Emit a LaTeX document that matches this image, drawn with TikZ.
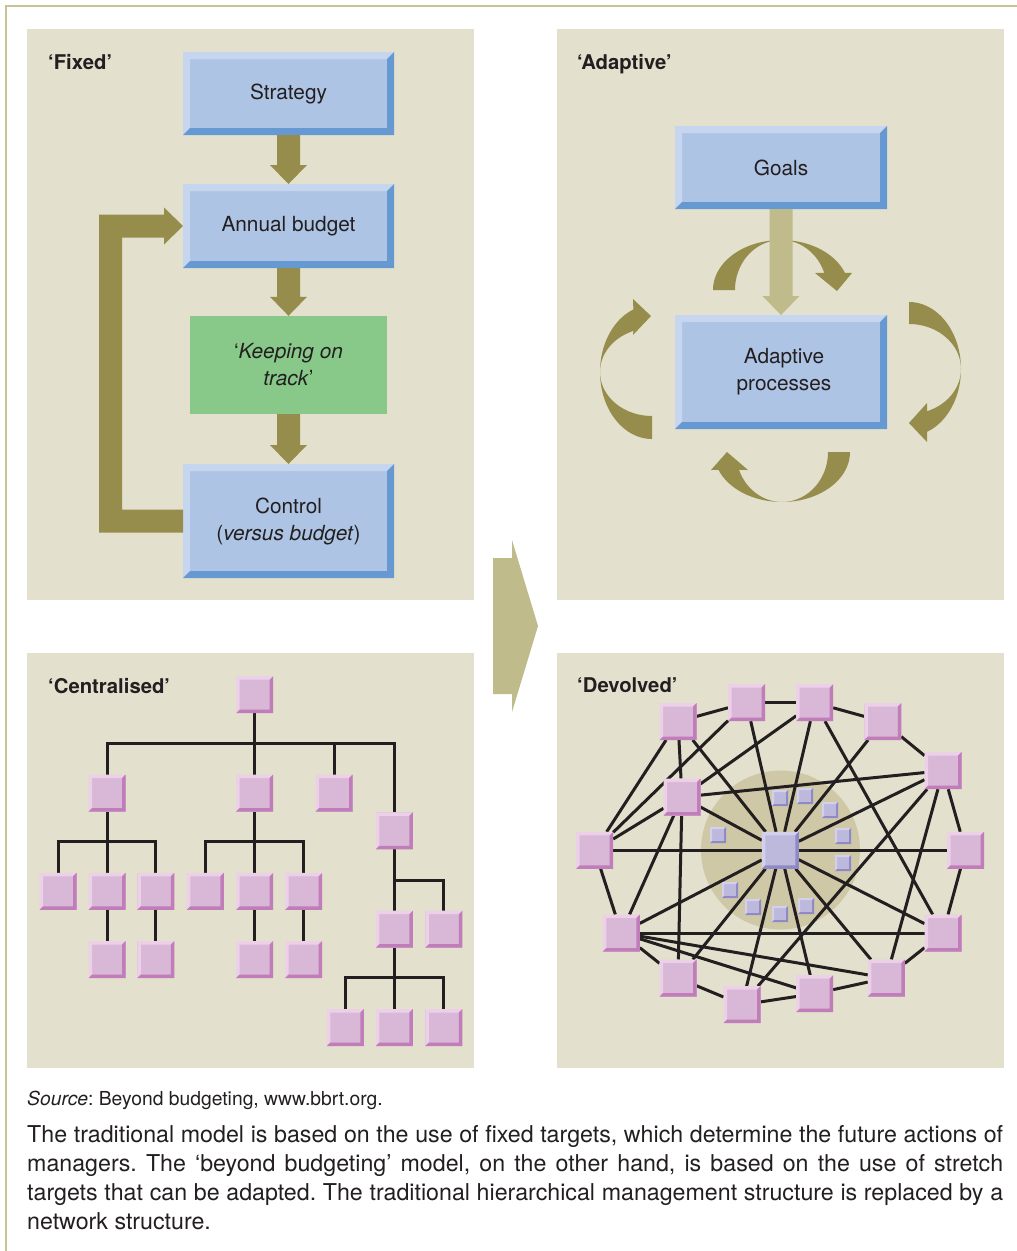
\documentclass[tikz,border=0pt]{standalone}
\usepackage{fontspec}
\setmainfont{TeX Gyre Heros}
\usetikzlibrary{calc}
\frenchspacing

\definecolor{panel}{HTML}{E3E0CD}
\definecolor{framec}{HTML}{C9C293}
\definecolor{olive}{HTML}{968D4C}
\definecolor{olivelt}{HTML}{BFBB8A}
\definecolor{bluef}{HTML}{AEC4E4}
\definecolor{bluel}{HTML}{C6D6EF}
\definecolor{blued}{HTML}{6699D1}
\definecolor{greenf}{HTML}{88C98A}
\definecolor{pinkf}{HTML}{D9B7D6}
\definecolor{pinkl}{HTML}{EBD0E8}
\definecolor{pinkd}{HTML}{C07DB9}
\definecolor{lavf}{HTML}{BDB9DD}
\definecolor{lavl}{HTML}{D3D0EC}
\definecolor{lavd}{HTML}{8F89C6}
\definecolor{hubc}{HTML}{CFC8A6}
\definecolor{ink}{HTML}{231F20}

\newcommand{\lblfont}{\fontsize{20.8}{27}\selectfont}
\newcommand{\ttlfont}{\fontsize{20.3}{24}\selectfont\bfseries}

% thick block arrow pointing down from one node to the next
\newcommand{\fatdown}[3]{%
  \fill[#3] ($(#1.south)+(-11.5,0)$) -- ($(#2.north)+(-11.5,-19)$)
    -- ($(#2.north)+(-18.5,-19)$) -- (#2.north) -- ($(#2.north)+(18.5,-19)$)
    -- ($(#2.north)+(11.5,-19)$) -- ($(#1.south)+(11.5,0)$) -- cycle;}

\pgfdeclarelayer{back}
\pgfdeclarelayer{links}
\pgfsetlayers{back,links,main}

\tikzset{
  bevel/.style n args={4}{rectangle, inner sep=0pt, outer sep=0pt, fill=#1,
    path picture={
      \fill[#2] (path picture bounding box.north west) -- (path picture bounding box.north east)
        -- ([shift={(-#4,-#4)}]path picture bounding box.north east)
        -- ([shift={(#4,-#4)}]path picture bounding box.north west)
        -- ([shift={(#4,#4)}]path picture bounding box.south west)
        -- (path picture bounding box.south west) -- cycle;
      \fill[#3] (path picture bounding box.north east) -- (path picture bounding box.south east)
        -- (path picture bounding box.south west)
        -- ([shift={(#4,#4)}]path picture bounding box.south west)
        -- ([shift={(-#4,#4)}]path picture bounding box.south east)
        -- ([shift={(-#4,-#4)}]path picture bounding box.north east) -- cycle;
    }},
  bluebox/.style={bevel={bluef}{bluel}{blued}{7pt}, text=ink, font=\lblfont, align=center},
  pinkbox/.style={bevel={pinkf}{pinkl}{pinkd}{3.5pt}, minimum size=37pt},
  hubbox/.style={bevel={lavf}{lavl}{lavd}{3.5pt}, minimum size=37pt},
  minibox/.style={bevel={lavf}{lavl}{lavd}{2pt}, minimum size=16pt},
  ttl/.style={anchor=base west, inner sep=0pt, text=ink, font=\ttlfont},
  wire/.style={draw=ink, line width=3pt},
  treeline/.style={draw=ink, line width=3pt},
  captxt/.style={anchor=base west, inner sep=0pt, text=ink},
}

\begin{document}
\begin{tikzpicture}[x=1pt,y=-1pt]
\useasboundingbox (0,0) rectangle (1017,1251);

\begin{pgfonlayer}{back}
  \fill[white] (0,0) rectangle (1017,1251);
  \draw[framec, line width=2.4pt] (6.2,1251) -- (6.2,6.2) -- (1017,6.2);
  \fill[panel] (27,29) rectangle (474,600);
  \fill[panel] (557,29) rectangle (1004,600);
  \fill[panel] (27,653) rectangle (474,1068);
  \fill[panel] (557,653) rectangle (1004,1068);
  % shaded hub behind the network centre
  \fill[hubc] (780.5,850) circle[radius=79.5];
\end{pgfonlayer}

% ---------------- 'Fixed' ----------------
\node[ttl] (tfixed) at (48,69) {‘Fixed’};
\node[bluebox, minimum width=211pt, minimum height=83pt] (strat) at (288.5,93.5) {Strategy};
\node[bluebox, minimum width=211pt, minimum height=84pt] (annual) at (288.5,226) {Annual budget};
\node[rectangle, fill=greenf, minimum width=197pt, minimum height=98pt, inner sep=0pt,
      text=ink, font=\lblfont, align=center] (keep) at (288.5,365)
      {‘\textit{Keeping on}\\\textit{track}’};
\node[bluebox, minimum width=211pt, minimum height=114pt] (ctrl) at (288.5,521)
      {Control\\(\textit{versus budget})};

\fatdown{strat}{annual}{olive}
\fatdown{annual}{keep}{olive}
\fatdown{keep}{ctrl}{olive}

% feedback loop from control back to the budget
\fill[olive] ($(ctrl.west)+(0,11.5)$) -- ($(ctrl.west)+(-84,11.5)$)
  -- ($(annual.west)+(-84,-11.5)$) -- ($(annual.west)+(-19,-11.5)$)
  -- ($(annual.west)+(-19,-18.5)$) -- (annual.west) -- ($(annual.west)+(-19,18.5)$)
  -- ($(annual.west)+(-19,11.5)$) -- ($(annual.west)+(-61,11.5)$)
  -- ($(ctrl.west)+(-61,-11.5)$) -- ($(ctrl.west)+(0,-11.5)$) -- cycle;

% ---------------- 'Adaptive' ----------------
\node[ttl] (tadapt) at (577,69) {‘Adaptive’};
\node[bluebox, minimum width=212pt, minimum height=83pt] (goals) at (781,167.5) {Goals};
\node[bluebox, minimum width=212pt, minimum height=114pt] (adapt) at (781,372)
      {\hspace*{6pt}Adaptive\\\hspace*{6pt}processes};

% four curved arrows circling the adaptive processes
\fill[olive] plot[domain=180:340,samples=60] ({781+68*cos(\x)},{290+50*sin(\x)})
  -- (852,273) -- (837,291) -- (815,273)
  -- plot[domain=340:180,samples=60] ({781+46*cos(\x)},{290+50*sin(\x)}) -- cycle;
\fill[olive] plot[domain=-90:69.7,samples=60] ({909+52*cos(\x)},{369+67*sin(\x)})
  -- (927,442) -- (909,423) -- (927,403)
  -- plot[domain=69.7:-90,samples=60] ({909+52*cos(\x)},{369+45*sin(\x)}) -- cycle;
\fill[olive] plot[domain=0:159,samples=60] ({782+68*cos(\x)},{452+50*sin(\x)})
  -- (711,470) -- (727,452) -- (748,470)
  -- plot[domain=159:0,samples=60] ({782+46*cos(\x)},{452+50*sin(\x)}) -- cycle;
\fill[olive] plot[domain=90:249,samples=60] ({652+52*cos(\x)},{372+67*sin(\x)})
  -- (633,299) -- (651,316) -- (633,335)
  -- plot[domain=249:90,samples=60] ({652+52*cos(\x)},{372+44*sin(\x)}) -- cycle;

\fatdown{goals}{adapt}{olivelt}

% ---------------- transition arrow ----------------
\fill[olivelt] (493,558) -- (512,558) -- (512,540) -- (538,626) -- (512,712)
  -- (512,694) -- (493,694) -- cycle;

% ---------------- 'Centralised' ----------------
\node[ttl] (tcent) at (48,693) {‘Centralised’};
\node[pinkbox] (c0) at (254.7,694.7) {};
\node[pinkbox] (c1) at (107,793) {};
\node[pinkbox] (c2) at (254.7,793) {};
\node[pinkbox] (c3) at (334.2,793) {};
\node[pinkbox] (c4) at (394.3,830.8) {};
\node[pinkbox] (c11) at (58,891.3) {};
\node[pinkbox] (c12) at (107,891.3) {};
\node[pinkbox] (c13) at (155.8,891.3) {};
\node[pinkbox] (c121) at (107,959.5) {};
\node[pinkbox] (c131) at (155.8,959.5) {};
\node[pinkbox] (c21) at (205.3,891.3) {};
\node[pinkbox] (c22) at (254.7,891.3) {};
\node[pinkbox] (c23) at (303.7,891.3) {};
\node[pinkbox] (c221) at (254.7,959.5) {};
\node[pinkbox] (c231) at (303.7,959.5) {};
\node[pinkbox] (c41) at (394.3,929.2) {};
\node[pinkbox] (c42) at (443.8,929.2) {};
\node[pinkbox] (c411) at (345.3,1027.5) {};
\node[pinkbox] (c412) at (394.3,1027.5) {};
\node[pinkbox] (c413) at (443.8,1027.5) {};

\begin{pgfonlayer}{links}
  \draw[treeline] (c0) -- ($(c0.south)+(0,30)$) coordinate (b0);
  \foreach \k in {c1,c2,c3,c4} \draw[treeline] (b0) -| (\k);
  \draw[treeline] (c1) -- ($(c1.south)+(0,30)$) coordinate (b1);
  \foreach \k in {c11,c12,c13} \draw[treeline] (b1) -| (\k);
  \draw[treeline] (c12) -- (c121);
  \draw[treeline] (c13) -- (c131);
  \draw[treeline] (c2) -- ($(c2.south)+(0,30)$) coordinate (b2);
  \foreach \k in {c21,c22,c23} \draw[treeline] (b2) -| (\k);
  \draw[treeline] (c22) -- (c221);
  \draw[treeline] (c23) -- (c231);
  \draw[treeline] (c4) -- ($(c4.south)+(0,31)$) coordinate (b4);
  \foreach \k in {c41,c42} \draw[treeline] (b4) -| (\k);
  \draw[treeline] (c41) -- ($(c41.south)+(0,30)$) coordinate (b41);
  \foreach \k in {c411,c412,c413} \draw[treeline] (b41) -| (\k);
\end{pgfonlayer}

% ---------------- 'Devolved' ----------------
\node[ttl] (tdev) at (577,692) {‘Devolved’};
\node[pinkbox] (p1) at (678,721.5) {};
\node[pinkbox] (p2) at (746.5,702.7) {};
\node[pinkbox] (p3) at (814.7,702.7) {};
\node[pinkbox] (p4) at (882.8,721.5) {};
\node[pinkbox] (p5) at (943,770.7) {};
\node[pinkbox] (p6) at (965.5,850.3) {};
\node[pinkbox] (p7) at (943,933) {};
\node[pinkbox] (p8) at (886.3,978) {};
\node[pinkbox] (p9) at (814.7,993.7) {};
\node[pinkbox] (p10) at (742,1004.7) {};
\node[pinkbox] (p11) at (678,978) {};
\node[pinkbox] (p12) at (621.3,933) {};
\node[pinkbox] (p13) at (594.7,850.3) {};
\node[pinkbox] (p14) at (682,797) {};
\node[hubbox] (hub) at (780.3,850.3) {};

\foreach \xy [count=\i] in {(780,798),(805,796),(830,810),(718,835),(843,836),
                           (843,863),(730,890),(753,907),(780,914),(806,906)}
  \node[minibox] (m\i) at \xy {};

\begin{pgfonlayer}{links}
  \foreach \a/\b in {p1/p2,p2/p3,p3/p4,p4/p5,p5/p6,p6/p7,p7/p8,p8/p9,p9/p10,
                     p10/p11,p11/p12,p12/p13,p13/p1}
    \draw[wire] (\a) -- (\b);
  \foreach \a in {p1,p2,p3,p4,p5,p6,p7,p8,p9,p10,p11,p12,p13,p14}
    \draw[wire] (\a) -- (hub);
  \foreach \a/\b in {p13/p2,p13/p14,p14/p3,p14/p5,p14/p12,p14/p1,p14/p11,
                     p3/p7,p5/p10,p5/p8,p12/p7,p12/p8,p12/p9}
    \draw[wire] (\a) -- (\b);
\end{pgfonlayer}

% ---------------- caption ----------------
\node[captxt, font=\fontsize{19.3}{22}\selectfont] (src) at (27,1105)
  {\textit{Source}: Beyond budgeting, www.bbrt.org.};
\begin{scope}[every node/.style={captxt, font=\fontsize{23.2}{29}\selectfont}]
  \node (cap1) at (27,1142) {\makebox[976pt][s]{The traditional model is based on the use of fixed targets, which determine the future actions of}};
  \node (cap2) at (27,1171) {\makebox[976pt][s]{managers. The ‘beyond budgeting’ model, on the other hand, is based on the use of stretch}};
  \node (cap3) at (27,1200) {\makebox[976pt][s]{targets that can be adapted. The traditional hierarchical management structure is replaced by a}};
  \node (cap4) at (27,1229) {network structure.};
\end{scope}
\end{tikzpicture}
\end{document}
